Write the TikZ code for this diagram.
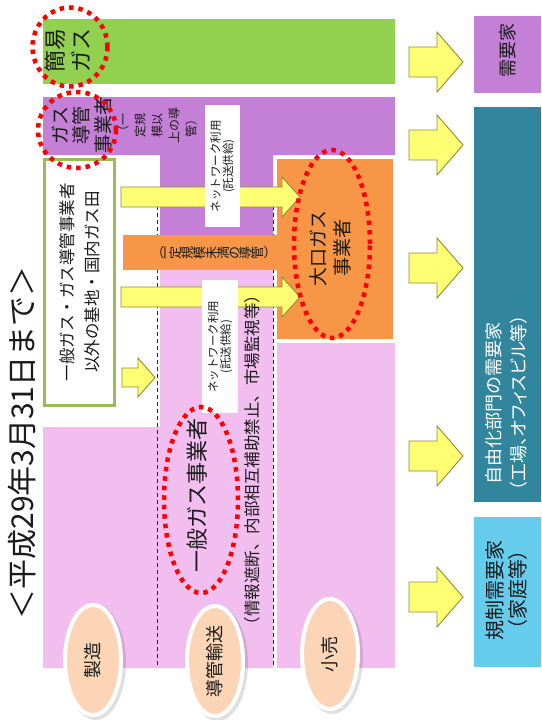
\documentclass[tikz,border=0pt]{standalone}
\usepackage{fontspec}
\usepackage{graphicx}
\setmainfont{Noto Sans CJK JP}
\newfontfamily\jpp[RawFeature=+palt]{Noto Sans CJK JP}
\usetikzlibrary{shapes.geometric}
\definecolor{cgreen}{HTML}{92D050}
\definecolor{cpurple}{HTML}{C480D6}
\definecolor{cpink}{HTML}{F2BEF0}
\definecolor{corange}{HTML}{F79646}
\definecolor{cyellow}{HTML}{FFFF73}
\definecolor{cyborder}{HTML}{8C8C3C}
\definecolor{cboxgreen}{HTML}{9BBB59}
\definecolor{cteal}{HTML}{31859C}
\definecolor{cblue}{HTML}{66CCEE}
\definecolor{cpeach}{HTML}{FBD5B5}
\definecolor{ctext}{HTML}{1A1A1A}
\newcommand\fs[2]{\fontsize{#1}{#2}\selectfont}
\newcommand\rg[1]{\raisebox{-0.12em}{\rotatebox{90}{#1}}}
\newcommand\barrow[6]{%
  \draw[yarrow] (#1,#4-#5) -- (#2,#4-#5) -- (#2,#4-#6) -- (#3,#4) -- (#2,#4+#6) -- (#2,#4+#5) -- (#1,#4+#5) -- cycle;}
\begin{document}
\begin{tikzpicture}[x=1pt,y=-1pt,
  lbl/.style={rotate=90, align=center, text=ctext, inner sep=0pt},
  yarrow/.style={fill=cyellow, draw=cyborder, line width=0.9pt, line join=miter},
  reddot/.style={draw=red, line width=4.5pt, dash pattern=on 4.5pt off 5pt},
  oval/.style={ellipse, rotate=90, fill=cpeach, draw=white, line width=4pt, minimum width=110pt, minimum height=56pt, inner sep=0pt, text=ctext, font=\fs{18}{20}},
  whitebox/.style={rotate=90, fill=white, inner sep=0pt, align=center, text=ctext},
  dashln/.style={dash pattern=on 4pt off 3pt, line width=0.9pt, draw=black!85}
]
\useasboundingbox (0,0) rectangle (541,720);

% main bands
\fill[cgreen] (43,19) rectangle (395,84);
\fill[cpurple] (43,97) -- (395,97) -- (395,155) -- (273,155) -- (273,270) -- (160,270) -- (160,155) -- (43,155) -- cycle;
\fill[cpink] (43,427) -- (160,427) -- (160,270) -- (273,270) -- (273,668) -- (43,668) -- cycle;
\fill[cpink] (277,343) rectangle (395,668);
\fill[corange] (277,159) rectangle (393,339);

% dashed lane separators
\draw[dashln] (157,206) -- (157,667);
\draw[dashln] (273,206) -- (273,667);

% orange bar (small pipelines)
\fill[corange] (123,235) rectangle (278,270);
\node[text=ctext, inner sep=0pt, font=\fs{13}{13}] (obar) at (214,253)
  {（\rg{一}\rg{定}\rg{規}\rg{模}\rg{未}\rg{満}\rg{の}\rg{導}\rg{管}）};

% arrows on the left
\barrow{121}{282}{300}{197}{10}{20}
\barrow{121}{282}{300}{297}{10}{20}
\barrow{122}{138}{155}{377.5}{9.5}{19.5}

% arrows to the customers
\foreach \c in {62,145,268,456,597} {\barrow{409}{437}{463}{\c}{15}{30}}

% network boxes
\node[whitebox, minimum width=122pt, minimum height=35pt, font=\fs{11.5}{12.5}] (nw1) at (222.5,166) {ネットワーク利用\\(託送供給)};
\node[whitebox, minimum width=133pt, minimum height=36pt, font=\fs{11.5}{12.5}] (nw2) at (220,346.5) {ネットワーク利用\\(託送供給)};

% green bordered box
\node[draw=cboxgreen, line width=3pt, fill=white, rotate=90, minimum width=246pt, minimum height=70pt, inner sep=0pt, align=center, text=ctext, font=\fs{16.5}{25}] (gbox) at (79.5,282) {一般ガス・ガス導管事業者\\以外の基地・国内ガス田};

% customer boxes
\fill[cpurple] (474,16) rectangle (541,93);
\fill[cteal] (474,107) rectangle (541,502);
\fill[cblue] (474,517) rectangle (541,667);

% texts
\node[lbl, font=\fs{30}{36}] (title) at (22,443) {＜平成29年3月31日まで＞};
\node[lbl, font=\fs{22}{26}] (kan) at (68,50) {簡易\\ガス};
\node[lbl, font=\fs{19}{21.5}] (dk) at (81.5,125) {ガス\\導管\\事業者};
\node[lbl, font=\fs{12}{17}] (ittei) at (157,125) {（一\\定規\\模以\\上の導\\管）};
\node[lbl, font=\fs{22}{26}] (ippan) at (197,495) {一般ガス事業者};
\node[lbl, font=\fs{16.5}{20}] (joho) at (252,460) {（情報遮断、内部相互補助禁止、市場監視等）};
\node[lbl, font=\fs{19}{24}] (oguchi) at (330,248) {大口ガス\\事業者};
\node[lbl, font=\fs{18}{22}] (juyo) at (508,50) {需要家};
\node[lbl, font=\fs{18}{25}, text=white] (jiyu) at (506.5,403) {自由化部門の需要家\\{\jpp（工場、オフィスビル等）}};
\node[lbl, font=\fs{20}{23}] (kisei) at (506.5,590) {規制需要家\\{\jpp（家庭等）}};

% red dotted highlights
\draw[reddot] (70,47) ellipse [x radius=37.5pt, y radius=39.5pt];
\draw[reddot] (77,130) ellipse [x radius=39pt, y radius=38pt];
\draw[reddot] (332,244) ellipse [x radius=38pt, y radius=94pt];
\draw[reddot] (201,500) ellipse [x radius=37pt, y radius=93pt];

% lane labels
\fill[black, opacity=0.12] (95.5,662.5) ellipse [x radius=30.5pt, y radius=57.5pt];
\fill[black, opacity=0.12] (217.5,663.5) ellipse [x radius=30.5pt, y radius=57.5pt];
\fill[black, opacity=0.12] (332.5,656.5) ellipse [x radius=30.5pt, y radius=57.5pt];
\node[oval] (o1) at (93,660) {製造};
\node[oval] (o2) at (215,661) {導管輸送};
\node[oval] (o3) at (330,654) {小売};
\end{tikzpicture}
\end{document}
